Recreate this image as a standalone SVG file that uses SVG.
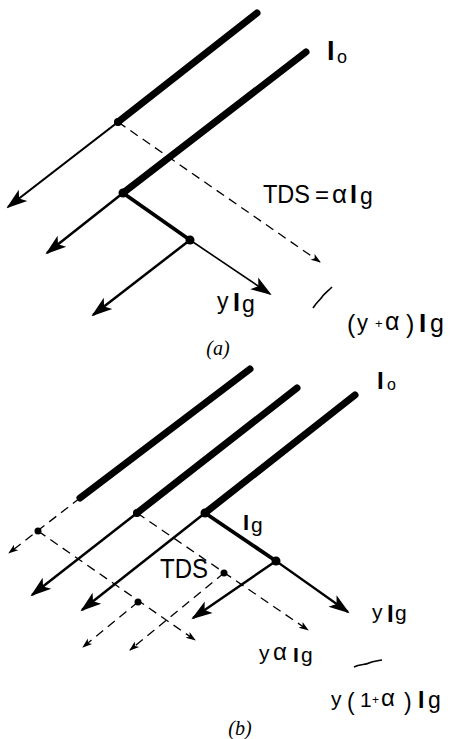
<svg xmlns="http://www.w3.org/2000/svg" width="455" height="739" viewBox="0 0 455 739">
<defs>
<style>
.thick{stroke:#000;stroke-width:7;stroke-linecap:round;fill:none}
.med{stroke:#000;stroke-width:3.8;stroke-linecap:round;fill:none}
.arr{stroke:#000;stroke-width:2.5;fill:none;marker-end:url(#ah)}
.tarr{stroke:#000;stroke-width:1.6;fill:none;marker-end:url(#ah)}
.dash{stroke:#000;stroke-width:1.3;fill:none;stroke-dasharray:9 6;marker-end:url(#sh)}
.brk{stroke:#000;stroke-width:1.6;fill:none}
.dot{fill:#000}
text{font-family:"Liberation Sans",Arial,sans-serif;fill:#000}
.b{font-weight:bold}
.cap{font-family:"Liberation Serif","Times New Roman",serif;font-style:italic;font-size:20px}
</style>
<marker id="ah" markerUnits="userSpaceOnUse" markerWidth="24" markerHeight="16" refX="19" refY="7.5" orient="auto" overflow="visible">
<path d="M0,0.5 L21,7.5 L0,14.5 L5,7.5 Z" fill="#000"/>
</marker>
<marker id="sh" markerUnits="userSpaceOnUse" markerWidth="11" markerHeight="8" refX="9" refY="4" orient="auto" overflow="visible">
<path d="M0,0.5 L10,4 L0,7.5 L2.5,4 Z" fill="#000"/>
</marker>
</defs>
<rect width="455" height="739" fill="#fff"/>

<g id="connectors">
  <!-- (a) -->
  <path class="dash" d="M118,122 L320,262"/>
  <path class="thick" d="M257,13 L118,122"/>
  <path class="thick" d="M306,52 L123,193"/>
  <path class="arr" style="stroke-width:2.2" d="M118,122 L8,207"/>
  <path class="arr" d="M123,193 L47,253"/>
  <path class="med" d="M123,193 L190,240"/>
  <path class="arr" d="M190,240 L93,315"/>
  <path class="tarr" d="M190,240 L270,294"/>
  <path class="brk" d="M313,308 C317,302 320,300 322,297 S328,291 332,287"/>
  <!-- (b) -->
  <path class="dash" d="M80,498 L9,553"/>
  <path class="dash" d="M38,531 L195,640"/>
  <path class="dash" d="M138,602 L83,647"/>
  <path class="dash" d="M137,513 L308,630"/>
  <path class="dash" d="M224,573 L130,650"/>
  <path class="thick" d="M250,369 L80,498"/>
  <path class="thick" d="M297,388 L137,513"/>
  <path class="thick" d="M355,395 L205,513"/>
  <path class="arr" d="M137,513 L32,595"/>
  <path class="arr" d="M205,513 L82,610"/>
  <path class="med" d="M205,513 L276,561"/>
  <path class="arr" style="stroke-width:2.2" d="M276,561 L348,612"/>
  <path class="arr" d="M276,561 L193,618"/>
  <path class="brk" d="M354,667 C360,664 365,665 369,663 S377,661 382,660"/>
</g>

<g id="node-a1"><circle class="dot" cx="118" cy="122" r="4"/></g>
<g id="node-a2"><circle class="dot" cx="123" cy="193" r="4.5"/></g>
<g id="node-a3"><circle class="dot" cx="190" cy="240" r="4.5"/></g>
<g id="node-b1"><circle class="dot" cx="38" cy="531" r="3.5"/></g>
<g id="node-b2"><circle class="dot" cx="138" cy="602" r="3.5"/></g>
<g id="node-b3"><circle class="dot" cx="137" cy="513" r="4"/></g>
<g id="node-b4"><circle class="dot" cx="224" cy="573" r="3.5"/></g>
<g id="node-b5"><circle class="dot" cx="205" cy="513" r="4.5"/></g>
<g id="node-b6"><circle class="dot" cx="276" cy="561" r="4.5"/></g>

<g id="labels-a">
  <text><tspan class="b" x="327" y="60" font-size="27">I</tspan><tspan x="337" y="63" font-size="18">o</tspan></text>
  <text x="263" y="203" font-size="25" textLength="47" lengthAdjust="spacingAndGlyphs">TDS</text>
  <text><tspan x="315" y="203" font-size="24">=</tspan><tspan x="332" y="203" font-size="26">α</tspan><tspan class="b" x="350" y="203" font-size="25">I</tspan><tspan x="360" y="204" font-size="23">g</tspan></text>
  <text><tspan x="217" y="309" font-size="23">y</tspan><tspan class="b" x="233" y="311" font-size="25">I</tspan><tspan x="242" y="312" font-size="23">g</tspan></text>
  <text><tspan x="347" y="333" font-size="25">(</tspan><tspan x="357" y="330" font-size="22">y</tspan><tspan x="375" y="328" font-size="13">+</tspan><tspan x="385" y="330" font-size="25">α</tspan><tspan x="406" y="333" font-size="25">)</tspan><tspan class="b" x="419" y="332" font-size="26">I</tspan><tspan x="430" y="332" font-size="25">g</tspan></text>
  <text class="cap" x="218" y="355" text-anchor="middle">(a)</text>
</g>

<g id="labels-b">
  <text><tspan class="b" x="377" y="389" font-size="24">I</tspan><tspan x="387" y="390" font-size="16">o</tspan></text>
  <text><tspan class="b" x="243" y="530" font-size="22">I</tspan><tspan x="251" y="532" font-size="21">g</tspan></text>
  <text x="160" y="578" font-size="27" textLength="48" lengthAdjust="spacingAndGlyphs">TDS</text>
  <text><tspan x="372" y="619" font-size="21">y</tspan><tspan class="b" x="387" y="622" font-size="24">I</tspan><tspan x="395" y="620" font-size="21">g</tspan></text>
  <text><tspan x="259" y="660" font-size="21">y</tspan><tspan x="273" y="660" font-size="24">α</tspan><tspan class="b" x="293" y="662" font-size="21">I</tspan><tspan x="301" y="662" font-size="21">g</tspan></text>
  <text><tspan x="331" y="706" font-size="21">y</tspan><tspan x="347" y="710" font-size="23">(</tspan><tspan x="360" y="707" font-size="21">1</tspan><tspan x="372" y="704" font-size="12">+</tspan><tspan x="381" y="706" font-size="24">α</tspan><tspan x="404" y="710" font-size="23">)</tspan><tspan class="b" x="418" y="708" font-size="23">I</tspan><tspan x="428" y="708" font-size="23">g</tspan></text>
  <text class="cap" x="240" y="735" text-anchor="middle">(b)</text>
</g>
</svg>
